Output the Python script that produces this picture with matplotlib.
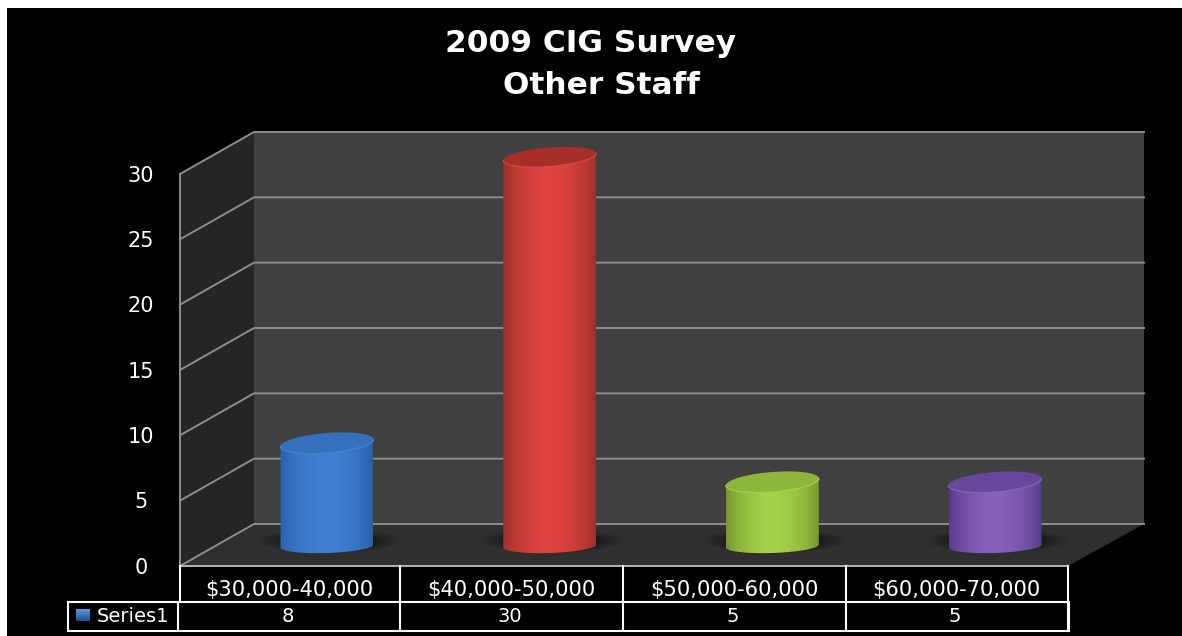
import numpy as np
import matplotlib
matplotlib.use("Agg")
import matplotlib.pyplot as plt
from matplotlib.patches import Polygon, Rectangle, PathPatch
from matplotlib.path import Path
from matplotlib.colors import LinearSegmentedColormap

categories = ["$30,000-40,000", "$40,000-50,000", "$50,000-60,000", "$60,000-70,000"]
values = [8, 30, 5, 5]
series_name = "Series1"
y_ticks = [0, 5, 10, 15, 20, 25, 30]
title_lines = ["2009 CIG Survey", "Other Staff"]
bar_shades = [
    ("#2a5ea6", "#3f80d2"),
    ("#98302c", "#de433f"),
    ("#73942c", "#a4d14a"),
    ("#553a88", "#8660ba"),
]
bar_caps = ["#3470bc", "#a82e2a", "#8fb63c", "#66479c"]
bar_lips = ["#4488d8", "#e04a44", "#aad654", "#8c68c0"]

W, H = 1182, 636
fig = plt.figure(figsize=(W / 100, H / 100), dpi=100, facecolor="white")

# Pixel-space layer for the 3D box, table frame and text
ax = fig.add_axes([0, 0, 1, 1])
ax.set_xlim(0, W)
ax.set_ylim(H, 0)
ax.axis("off")

ax.add_patch(Rectangle((7, 8), W - 7, H - 8, fc="black", ec="none", zorder=0))

# Box geometry
bx0, bx1, by0, by1 = 254, 1144, 524, 132
fx0, fx1, fy0, fy1 = 180, 1068, 566, 174
ax.add_patch(Polygon([(bx0, by1), (bx1, by1), (bx1, by0), (bx0, by0)], fc="#404040", ec="none", zorder=1))
ax.add_patch(Polygon([(fx0, fy1), (bx0, by1), (bx0, by0), (fx0, fy0)], fc="#252525", ec="none", zorder=1))
ax.add_patch(Polygon([(fx0, fy0), (bx0, by0), (bx1, by0), (fx1, fy0)], fc="#2f2f2f", ec="none", zorder=1))

grid_col = "#8c8c8c"
for v in y_ticks:
    f = v / y_ticks[-1]
    yb = by0 + (by1 - by0) * f
    yf = fy0 + (fy1 - fy0) * f
    ax.plot([fx0, bx0, bx1], [yf, yb, yb], color=grid_col, lw=1.4, zorder=2, solid_joinstyle="miter")
    ax.text(141, yf + 1.5, str(v), color="white", ha="center", va="center",
            fontsize=15, family="DejaVu Sans", zorder=6)
ax.plot([fx0, fx0], [fy1, fy0], color=grid_col, lw=1.4, zorder=2)

# Value-space layer for the cylinders: one category is 222.67 px, one unit is 13 px
PX_CAT, X0, PX_UNIT, Y0 = 222.67, 327.0, 13.0, 547.0
bar_ax = fig.add_axes([0, 0, 1, 1], zorder=3)
bar_ax.axis("off")
bar_ax.patch.set_alpha(0)

half_w = 46.5 / PX_CAT
base_lift = 1.0 / PX_UNIT      # base centre sits a little above the zero level
top_tilt = 3.5 / PX_UNIT       # the cap rises towards the right
base_tilt = 1.5 / PX_UNIT      # the base is nearly level


def draw_cylinder(i, value, shades, cap, lip):
    cx = i
    top = value
    base = base_lift
    ry_top = (9.5 if value > 10 else 10.0) / PX_UNIT
    ry_base = 7.0 / PX_UNIT

    # soft floor shadow
    s = np.linspace(0, 2 * np.pi, 80)
    for k, a in zip(np.linspace(1.55, 1.05, 6), [0.05, 0.06, 0.07, 0.08, 0.10, 0.12]):
        bar_ax.fill(cx + 0.01 + half_w * k * np.cos(s), base + 0.4 + ry_base * (0.7 + 0.6 * k) * np.sin(s),
                    color="black", alpha=a, lw=0, zorder=2)

    # body: lower half of the top ellipse back along the lower half of the base
    s = np.linspace(np.pi, 2 * np.pi, 60)
    front_top = np.column_stack([cx + half_w * np.cos(s), top + ry_top * np.sin(s) + top_tilt * np.cos(s)])
    front_base = np.column_stack([cx + half_w * np.cos(s), base + ry_base * np.sin(s) + base_tilt * np.cos(s)])
    outline = np.vstack([front_base, front_top[::-1]])
    path = Path(np.vstack([outline, outline[0]]), closed=True)

    cmap = LinearSegmentedColormap.from_list("body", [shades[0], shades[1]], N=256)
    grad = (np.sin(np.linspace(0, np.pi, 256)) ** 0.75).reshape(1, -1)
    im = bar_ax.imshow(grad, cmap=cmap, vmin=0, vmax=1,
                       extent=(cx - half_w, cx + half_w, base - 1.2, top + 1.2),
                       aspect="auto", origin="lower", zorder=3, interpolation="bicubic")
    clip = PathPatch(path, transform=bar_ax.transData, fc="none", ec="none")
    bar_ax.add_patch(clip)
    im.set_clip_path(clip)

    # top cap with a bright lip along its front edge
    s = np.linspace(0, 2 * np.pi, 120)
    bar_ax.fill(cx + half_w * np.cos(s), top + ry_top * np.sin(s) + top_tilt * np.cos(s),
                color=cap, lw=0, zorder=4)
    bar_ax.plot(front_top[:, 0], front_top[:, 1], color=lip, lw=1.0, alpha=0.8, zorder=5)


for i, (val, shades, cap, lip) in enumerate(zip(values, bar_shades, bar_caps, bar_lips)):
    draw_cylinder(i, val, shades, cap, lip)

bar_ax.set_xlim(-X0 / PX_CAT, (W - X0) / PX_CAT)
bar_ax.set_ylim((Y0 - H) / PX_UNIT, Y0 / PX_UNIT)

# Data table below the box
txt = fig.add_axes([0, 0, 1, 1], zorder=5)
txt.set_xlim(0, W)
txt.set_ylim(H, 0)
txt.axis("off")
txt.patch.set_alpha(0)

cols = [180, 400, 623, 846, 1068]
line = dict(color="white", lw=1.5, solid_capstyle="projecting")
txt.plot([cols[0], cols[-1]], [566, 566], color="#b4b4b4", lw=1.4)
txt.plot([cols[0], cols[0]], [566, 601], **line)
for c in cols[1:]:
    txt.plot([c, c], [566, 631], **line)
txt.plot([178, 178], [602, 631], **line)
txt.plot([68, 1069], [602, 602], **line)
txt.plot([68, 1069], [631, 631], **line)
txt.plot([68, 68], [602, 631], **line)
txt.plot([1069, 1069], [602, 631], **line)

for i, (cat, val) in enumerate(zip(categories, values)):
    cx = (cols[i] + cols[i + 1]) / 2
    txt.text(cx - 0.5, 590, cat, color="white", ha="center", va="center", fontsize=15.2, family="DejaVu Sans")
    txt.text(cx - 2, 617, str(val), color="white", ha="center", va="center", fontsize=14, family="DejaVu Sans")

key = np.linspace(0, 1, 32).reshape(-1, 1)
key_cmap = LinearSegmentedColormap.from_list("key", ["#1f4f90", "#5a9ae0"])
txt.imshow(key, cmap=key_cmap, extent=(76, 90, 621, 609), aspect="auto", zorder=3, origin="lower")
txt.set_xlim(0, W)
txt.set_ylim(H, 0)
txt.text(97, 616, series_name, color="white", ha="left", va="center", fontsize=14, family="DejaVu Sans")

txt.text(591, 44, title_lines[0], color="white", ha="center", va="center", fontsize=22.5, fontweight="bold", family="DejaVu Sans")
txt.text(601, 85, title_lines[1], color="white", ha="center", va="center", fontsize=22.5, fontweight="bold", family="DejaVu Sans")

fig.savefig("out.png", dpi=100, facecolor="white")
